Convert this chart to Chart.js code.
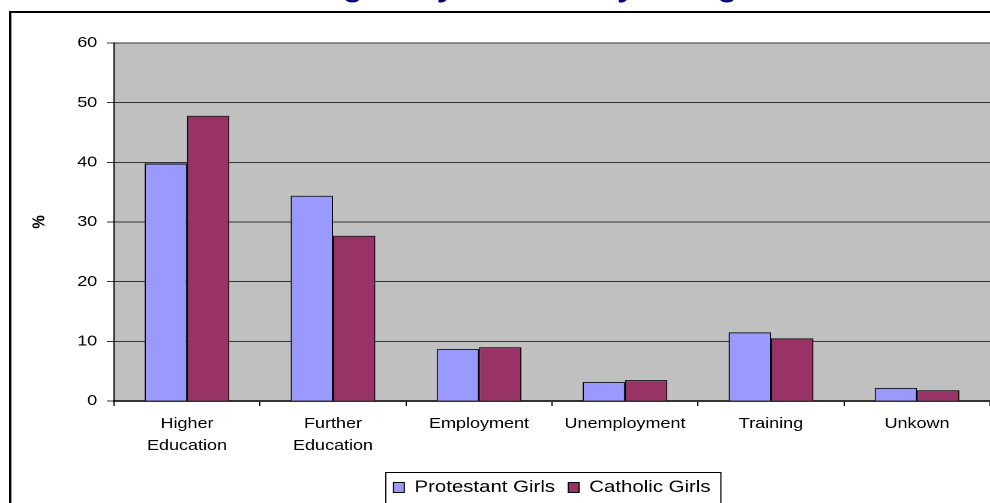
<!DOCTYPE html>
<html>
<head>
<meta charset="utf-8">
<script src="https://cdn.jsdelivr.net/npm/chart.js@4"></script>
<style>
  html, body { margin: 0; padding: 0; background: #fff; overflow: hidden; }
  /* the original picture is stretched sideways, so the chart is drawn narrower and widened */
  #wrap { position: absolute; left: 0; top: 0; width: 825px; height: 506px; transform: scaleX(1.2); transform-origin: 0 0; }
</style>
</head>
<body>
<div id="wrap"><canvas id="myChart"></canvas></div>
<script>
// Kategorier og verdier (prosent)
const categories = [['Higher', 'Education'], ['Further', 'Education'], 'Employment', 'Unemployment', 'Training', 'Unkown'];
const protestantGirls = [39.8, 34.4, 8.7, 3.2, 11.5, 2.2];
const catholicGirls = [47.8, 27.7, 9.0, 3.5, 10.5, 1.8];
const seriesNames = ['Protestant Girls', 'Catholic Girls'];
const yTicks = [0, 10, 20, 30, 40, 50, 60];
const chartTitle = 'Destinations of girls by Community Background';

const font = 'Liberation Sans';

// Bakgrunn, ramme, legend-boks og tittel
const framePlugin = {
  id: 'frame',
  beforeDraw(chart) {
    const ctx = chart.ctx;
    const a = chart.chartArea;
    ctx.save();
    ctx.fillStyle = '#fff';
    ctx.fillRect(0, 0, chart.width, chart.height);
    ctx.strokeStyle = '#000';
    ctx.lineWidth = 2;
    ctx.strokeRect(8.5, 12, 2000, 2000);
    ctx.fillStyle = '#C0C0C0';
    ctx.fillRect(a.left, a.top, a.right - a.left, a.bottom - a.top);
    ctx.restore();
  },
  afterDraw(chart) {
    const ctx = chart.ctx;
    const hb = chart.legend.legendHitBoxes;
    ctx.save();
    if (hb && hb.length) {
      const last = hb[hb.length - 1];
      const left = hb[0].left - 7;
      const right = last.left + last.width + 8;
      const top = hb[0].top + hb[0].height / 2 - 16;
      ctx.strokeStyle = '#000';
      ctx.lineWidth = 1;
      ctx.strokeRect(Math.round(left) + 0.5, Math.round(top) + 0.5, right - left, 100);
    }
    // tittelen er nesten helt utenfor bildet, bare nedre del synes
    ctx.fillStyle = '#000080';
    ctx.font = 'bold 26px "' + font + '"';
    ctx.textAlign = 'left';
    ctx.textBaseline = 'alphabetic';
    ctx.fillText(chartTitle, 91, -3);
    ctx.restore();
  }
};

const ctx = document.getElementById('myChart').getContext('2d');
new Chart(ctx, {
  type: 'bar',
  data: {
    labels: categories,
    datasets: [{
      label: seriesNames[0],
      data: protestantGirls,
      backgroundColor: '#9999FF',
      borderColor: '#000',
      borderWidth: 1
    }, {
      label: seriesNames[1],
      data: catholicGirls,
      backgroundColor: '#993366',
      borderColor: '#000',
      borderWidth: 1
    }]
  },
  options: {
    responsive: true,
    maintainAspectRatio: false,
    animation: false,
    devicePixelRatio: 2,
    categoryPercentage: 0.58,
    barPercentage: 1.0,
    layout: { padding: { top: 43, left: 0, right: 0, bottom: 0 } },
    scales: {
      x: {
        offset: true,
        grid: { drawOnChartArea: false, drawTicks: true, tickLength: 5, color: '#000', offset: true },
        border: { color: '#333', width: 2 },
        ticks: {
          font: { family: font, size: 15, lineHeight: 1.45 },
          color: '#000',
          padding: 7,
          maxRotation: 0,
          autoSkip: false
        },
        afterFit(scale) { scale.height = 67; }
      },
      y: {
        min: 0,
        max: 60,
        afterBuildTicks(scale) { scale.ticks = yTicks.map(v => ({ value: v })); },
        ticks: { font: { family: font, size: 15 }, color: '#000', padding: 8 },
        grid: { color: '#333', tickLength: 6, drawTicks: true },
        border: { color: '#000', width: 1 },
        title: {
          display: true,
          text: '%',
          font: { family: font, size: 15, weight: 'bold' },
          color: '#000',
          padding: { top: 24, bottom: 0 }
        },
        afterFit(scale) { scale.width = 95; }
      }
    },
    plugins: {
      legend: {
        position: 'bottom',
        fullSize: false,
        labels: {
          font: { family: font, size: 17 },
          color: '#000',
          boxWidth: 9,
          boxHeight: 10,
          padding: 11
        }
      },
      tooltip: { enabled: false }
    }
  },
  plugins: [framePlugin]
});
</script>
</body>
</html>
